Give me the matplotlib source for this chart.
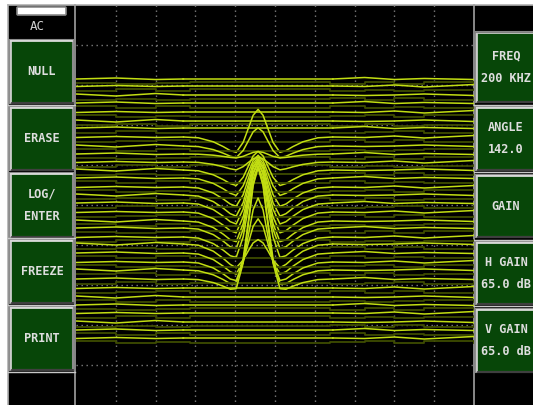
import numpy as np
import matplotlib
matplotlib.use("Agg")
import matplotlib.pyplot as plt
from matplotlib.patches import Rectangle, FancyBboxPatch

# -----------------------------------------------
# data (scope units: 400 x 400, y down)
# -----------------------------------------------
baselines = [74, 81, 90, 98, 107, 116, 123, 132, 141, 149, 157, 165, 173, 182, 190, 198,
             207, 216, 223, 232, 239, 248, 257, 265, 274, 283, 292, 300, 308, 317, 325, 333]
peak_rise = [0, 0, 0, 0, 0, 0, 0, 34, 23, 4, 8, 25, 30, 38, 45, 52,
             58, 68, 75, 80, 14, 43, 72, 110, 116, 0, 0, 0, 0, 0, 0, 0]
dip_depth = [0, 0, 0, 0, 0, 0, 0, 16, 12, 4, 8, 16, 18, 20, 22, 22,
             22, 22, 22, 22, 24, 22, 20, 16, 12, 0, 0, 0, 0, 0, 0, 0]

signal_center = 183
profile_dx = [-75, -60, -45, -35, -28, -22, -15, -10, -5, 0, 5, 10, 15, 22, 28, 35, 45, 60, 75]
peak_shape = [0, 0, 0, 0, 0, 0.02, 0.22, 0.52, 0.85, 1, 0.85, 0.52, 0.22, 0.02, 0, 0, 0, 0, 0]
dip_shape = [0, 0.05, 0.3, 0.6, 0.85, 1, 0.8, 0.6, 0.45, 0.4, 0.45, 0.6, 0.8, 1, 0.85, 0.6, 0.3, 0.05, 0]

# small baseline wobble (step offsets along the sweep)
wobble_x = [0, 40, 80, 115, 255, 290, 320, 350, 400]
wobble_y = [0, -1, 0.5, -1, 1, -1.5, 0.5, -0.5, 0.5]

left_buttons = ["NULL", "ERASE", "LOG/\nENTER", "FREEZE", "PRINT"]
left_spans = [(40, 103), (107, 170), (173, 237), (240, 303), (307, 370)]
right_buttons = ["FREQ\n200 KHZ", "ANGLE\n142.0", "GAIN", "H GAIN\n65.0 dB", "V GAIN\n65.0 dB"]
right_spans = [(32, 102), (107, 170), (175, 237), (242, 304), (309, 372)]

trace_col = "#c2de12"
ghost_col = "#3e4c00"
green = "#074608"
txt_col = "#dedede"
font = dict(family="DejaVu Sans Mono", fontweight="bold", fontsize=8.6, color=txt_col)

W, H = 533, 405
fig = plt.figure(figsize=(W / 100, H / 100), dpi=100, facecolor="white")

# -----------------------------------------------
# background / frame in pixel coords
# -----------------------------------------------
bg = fig.add_axes([0, 0, 1, 1])
bg.set_xlim(0, W)
bg.set_ylim(H, 0)
bg.axis("off")
bg.add_patch(Rectangle((8, 5), W - 8, H - 5, facecolor="black", edgecolor="none"))
bg.plot([8, W], [5, 5], color="#b0b0b0", lw=1.2)
bg.plot([8, 8], [5, H], color="#b0b0b0", lw=1.2)
bg.plot([75, 75], [5, H], color="#a0a0a0", lw=1.2)
bg.plot([474, 474], [5, H], color="#a0a0a0", lw=1.2)

# AC indicator
bg.add_patch(FancyBboxPatch((18, 8), 47, 6, boxstyle="round,pad=1",
                            facecolor="white", edgecolor="#8a8a8a", lw=1.2))
bg.text(37, 27, "AC", ha="center", va="center", family="DejaVu Sans Mono",
        fontsize=9, color="#d0d0d0")


def button(x0, x1, span, label):
    y0, y1 = span
    bg.add_patch(Rectangle((x0, y0), x1 - x0, y1 - y0, facecolor=green,
                           edgecolor="#8c8c8c", lw=1.5))
    bg.plot([x0 + 1, x1 - 1], [y0 + 1, y0 + 1], color="#e8e8e8", lw=1.2)
    bg.plot([x0 + 1, x0 + 1], [y0 + 1, y1 - 1], color="#d8d8d8", lw=1.2)
    bg.plot([x0 + 2, x1], [y1, y1], color="#303030", lw=1.2)
    bg.text((x0 + x1) / 2 + 0.5, (y0 + y1) / 2, label, ha="center", va="center",
            linespacing=1.9, **font)


for lab, sp in zip(left_buttons, left_spans):
    button(10, 73, sp, lab)
for lab, sp in zip(right_buttons, right_spans):
    button(476, 535, sp, lab)

for y in [105, 238, 305, 372]:
    bg.plot([8, 75], [y, y], color="#c8c8c8", lw=1)
for y in [105, 172, 240, 306]:
    bg.plot([474, W], [y, y], color="#c8c8c8", lw=1)
bg.plot([474, W], [32, 32], color="#808080", lw=1)

# -----------------------------------------------
# scope area
# -----------------------------------------------
ax = fig.add_axes([76 / W, 0, 398 / W, 400 / H])
ax.set_xlim(0, 400)
ax.set_ylim(400, 0)
ax.axis("off")
ax.set_facecolor("black")

for g in range(40, 400, 40):
    ax.plot([g, g], [0, 400], color="#7c7c7c", lw=1, ls=(0, (1, 2.6)))
    ax.plot([0, 400], [g, g], color="#7c7c7c", lw=1, ls=(0, (1, 2.6)))

sig_x = [signal_center + d for d in profile_dx]
for i, (b, p, d) in enumerate(zip(baselines, peak_rise, dip_depth)):
    wob = np.roll(wobble_y, i * 3)
    # ghost sweep slightly below
    ax.plot(wobble_x, b + 4 + np.roll(wobble_y, i * 5 + 2), color=ghost_col, lw=1.3,
            drawstyle="steps-post")
    # bright trace: flat sweep left, signal, flat sweep right
    left_x = [x for x in wobble_x if x < sig_x[0]] + [sig_x[0]]
    left_y = [b + w for x, w in zip(wobble_x, wob) if x < sig_x[0]] + [b]
    right_x = [sig_x[-1]] + [x for x in wobble_x if x > sig_x[-1]]
    right_y = [b] + [b + w for x, w in zip(wobble_x, wob) if x > sig_x[-1]]
    mid_y = [b - p * ps + d * ds for ps, ds in zip(peak_shape, dip_shape)]
    ax.plot(left_x, left_y, color=trace_col, lw=1.1)
    ax.plot(sig_x, mid_y, color=trace_col, lw=1.1)
    ax.plot(right_x, right_y, color=trace_col, lw=1.1)

fig.savefig("out.png", dpi=100, facecolor="white")
